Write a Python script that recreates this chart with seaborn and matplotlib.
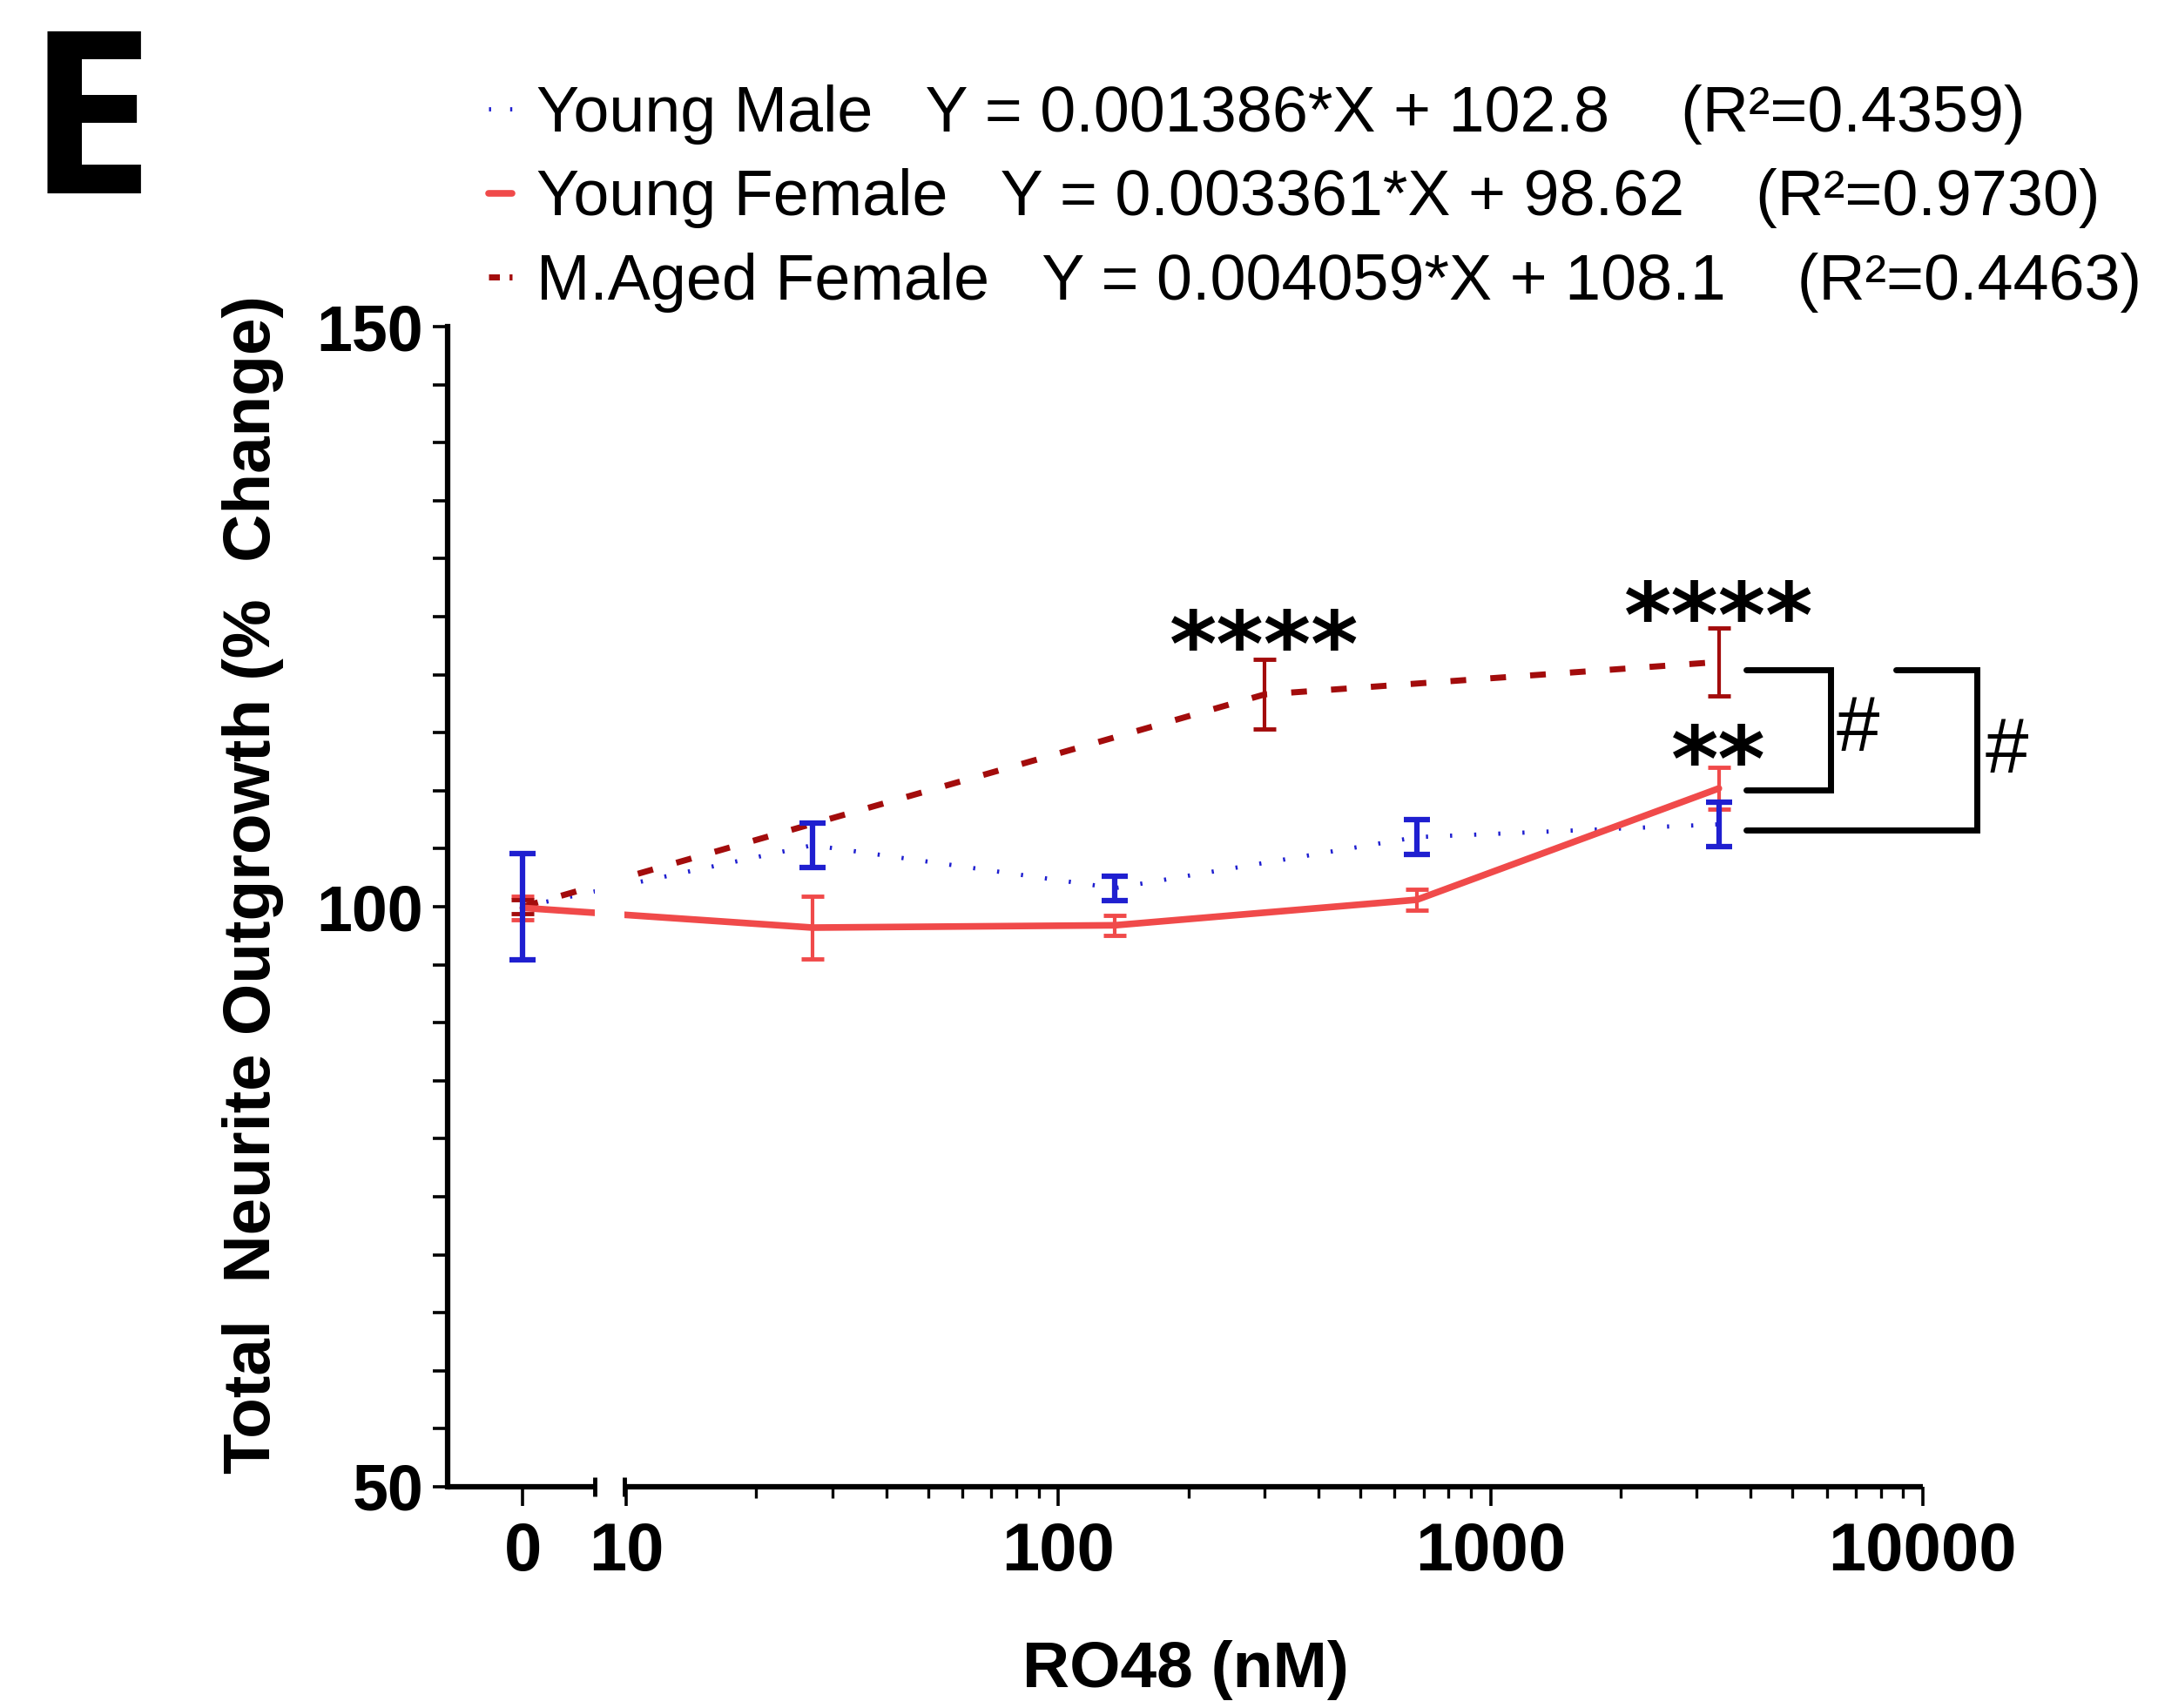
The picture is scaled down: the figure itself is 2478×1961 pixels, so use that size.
import numpy as np
import pandas as pd
import matplotlib
matplotlib.use("Agg")
import matplotlib.pyplot as plt
import seaborn as sns
from matplotlib.lines import Line2D
from matplotlib.ticker import MultipleLocator, FixedLocator

# ---------------- data ----------------
doses_young = [0, 27, 135, 675, 3375]          # nM
doses_aged = [0, 300, 3375]                    # nM
young_male = [100.0, 105.3, 101.6, 106.0, 107.1]
young_male_sem = [4.6, 1.9, 1.05, 1.5, 1.9]
young_female = [99.9, 98.2, 98.4, 100.6, 110.2]
young_female_sem = [1.0, 2.7, 0.85, 0.9, 1.8]
aged_female = [100.0, 118.3, 121.1]
aged_female_sem = [0.6, 3.0, 2.9]

legend_labels = [
    "Young Male   Y = 0.001386*X + 102.8    (R\u00b2=0.4359)",
    "Young Female   Y = 0.003361*X + 98.62    (R\u00b2=0.9730)",
    "M.Aged Female   Y = 0.004059*X + 108.1    (R\u00b2=0.4463)",
]
x_tick_values = [0, 10, 100, 1000, 10000]
x_tick_labels = ["0", "10", "100", "1000", "10000"]
y_ticks = [50, 100, 150]

# significance annotations (dose, value, text)
star_doses = [300, 3375, 3375]
star_values = [124.2, 126.7, 114.3]
star_texts = ["****", "****", "**"]

# ---------------- style ----------------
sns.set_style("ticks")
plt.rcParams["font.family"] = ["Liberation Sans", "DejaVu Sans"]
plt.rcParams.update({
    "text.color": "black",
    "axes.labelcolor": "black",
    "xtick.color": "black",
    "ytick.color": "black",
    "axes.edgecolor": "black",
})

BLUE = "#1f1fd0"
RED = "#f04a4a"
MAROON = "#a30c0c"

ZERO_POS = 0.761       # position of the "0" dose on the broken log axis
BREAK = (0.927, 0.996)
XMIN, XMAX = 0.587, 4.0


def to_pos(d):
    d = np.asarray(d, dtype=float)
    return np.where(d > 0, np.log10(np.maximum(d, 1e-12)), ZERO_POS)


fig = plt.figure(figsize=(24.78, 19.61), dpi=100)
ax = fig.add_axes([0.2074, 0.12953, 0.6836, 0.6792])

df_male = pd.DataFrame({"pos": to_pos(doses_young), "val": young_male})
df_fem = pd.DataFrame({"pos": to_pos(doses_young), "val": young_female})
df_aged = pd.DataFrame({"pos": to_pos(doses_aged), "val": aged_female})

blue_ls = (0, (0.5, 5.2))
maroon_ls = (0, (2.6, 4.0))

sns.lineplot(data=df_male, x="pos", y="val", ax=ax, color=BLUE, lw=3.5,
             linestyle=blue_ls, legend=False, zorder=3)
sns.lineplot(data=df_aged, x="pos", y="val", ax=ax, color=MAROON, lw=5,
             linestyle=maroon_ls, legend=False, zorder=4)
sns.lineplot(data=df_fem, x="pos", y="val", ax=ax, color=RED, lw=5.5,
             linestyle="-", legend=False, zorder=5)

ax.errorbar(df_fem["pos"], df_fem["val"], yerr=young_female_sem, fmt="none",
            ecolor=RED, elinewidth=3, capsize=9.5, capthick=3.5, zorder=6)
ax.errorbar(df_aged["pos"], df_aged["val"], yerr=aged_female_sem, fmt="none",
            ecolor=MAROON, elinewidth=3, capsize=9.5, capthick=3.5, zorder=6)
ax.errorbar(df_male["pos"], df_male["val"], yerr=young_male_sem, fmt="none",
            ecolor=BLUE, elinewidth=4.5, capsize=11, capthick=4.5, zorder=7)

# axis break: white gap through the lines
ax.axvspan(BREAK[0], BREAK[1], color="white", zorder=8, lw=0)

# ---------------- axes ----------------
ax.set_xlim(XMIN, XMAX)
ax.set_ylim(50, 150)
ax.spines["top"].set_visible(False)
ax.spines["right"].set_visible(False)
ax.spines["bottom"].set_visible(False)
ax.spines["left"].set_linewidth(4.5)

xt = ax.get_xaxis_transform()
ax.plot([XMIN, BREAK[0]], [0, 0], transform=xt, color="k", lw=4.5,
        clip_on=False, zorder=10, solid_capstyle="butt")
ax.plot([BREAK[1], XMAX], [0, 0], transform=xt, color="k", lw=4.5,
        clip_on=False, zorder=10, solid_capstyle="butt")
ax.plot(list(BREAK), [0, 0], transform=xt, ls="none", marker="|", ms=16,
        mew=3.5, color="k", clip_on=False, zorder=10)

ax.xaxis.set_major_locator(FixedLocator(list(to_pos(x_tick_values))))
ax.set_xticklabels(x_tick_labels)
minor = [np.log10(m * 10 ** k) for k in range(1, 4) for m in range(2, 10)]
ax.xaxis.set_minor_locator(FixedLocator(minor))
ax.tick_params(axis="x", which="major", length=16, width=2.6, pad=12,
               labelsize=56, direction="out")
ax.tick_params(axis="x", which="minor", length=9.5, width=2.4, direction="out")

ax.yaxis.set_major_locator(FixedLocator(y_ticks))
ax.yaxis.set_minor_locator(MultipleLocator(5))
ax.tick_params(axis="y", which="both", length=12, width=2.6, pad=8,
               labelsize=53, direction="out")
for lab in ax.get_xticklabels() + ax.get_yticklabels():
    lab.set_fontweight("bold")

ax.set_xlabel("RO48 (nM)", fontsize=54, fontweight="bold")
ax.xaxis.label.set_va("center")
ax.xaxis.set_label_coords(0.5006, -0.158)
ax.set_ylabel("Total  Neurite Outgrowth (%  Change)", fontsize=55,
              fontweight="bold")
ax.yaxis.label.set_va("center")
ax.yaxis.set_label_coords(-0.1317, 0.5195)

# ---------------- annotations ----------------
for d, v, t in zip(star_doses, star_values, star_texts):
    ax.text(float(to_pos([d])[0]), v - 4.3, t, ha="center", va="baseline",
            fontsize=75, fontweight="bold", family="DejaVu Sans", zorder=12)

# comparison brackets (#)
br_lw = 5
b1_x0, b1_x1 = 3.592, 3.787
b2_x0, b2_x1, b2_x2 = 3.592, 3.938, 4.126
top_y, mid_y, low_y = 120.4, 110.1, 106.6
ax.plot([b1_x0, b1_x1, b1_x1, b1_x0], [top_y, top_y, mid_y, mid_y],
        color="k", lw=br_lw, clip_on=False, solid_joinstyle="miter", zorder=11)
ax.plot([b2_x1, b2_x2, b2_x2, b2_x0], [top_y, top_y, low_y, low_y],
        color="k", lw=br_lw, clip_on=False, solid_joinstyle="miter", zorder=11)
ax.text(3.850, 115.2, "#", ha="center", va="center", fontsize=64, zorder=12)
ax.text(4.194, 113.3, "#", ha="center", va="center", fontsize=64,
        clip_on=False, zorder=12)

# ---------------- legend ----------------
handles = [
    Line2D([], [], color=BLUE, lw=3.5, ls=(0, (0.5, 4.5))),
    Line2D([], [], color=RED, lw=5.5, ls="-"),
    Line2D([], [], color=MAROON, lw=5, ls=(0, (1.8, 1.6))),
]
fig.legend(handles, legend_labels, loc="upper left",
           bbox_to_anchor=(0.2264, 0.9505), frameon=False, fontsize=53,
           handlelength=0.37, handletextpad=0.38, labelspacing=0.37,
           borderpad=0, borderaxespad=0)

# panel letter
fig.text(0.0125, 1 - 222 / 1961, "E", fontsize=188, fontweight="bold",
         family=["Open Sans", "DejaVu Sans"], va="baseline", ha="left")

fig.savefig("out.png", dpi=100)
